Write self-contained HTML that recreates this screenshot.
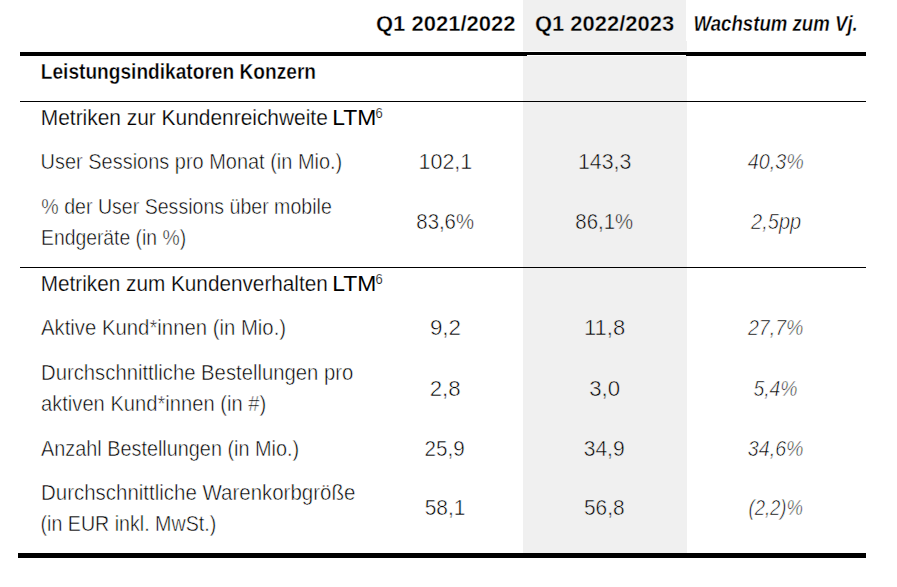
<!DOCTYPE html>
<html lang="de"><head><meta charset="utf-8"><title>Leistungsindikatoren Konzern</title>
<style>
html,body{margin:0;padding:0;background:#fff;}
body{width:897px;height:587px;position:relative;overflow:hidden;font-family:"Liberation Sans",sans-serif;font-size:20px;color:#000;}
.g{position:absolute;left:523px;top:0;width:163px;height:553px;background:#f0f0f0;}
.g2{position:absolute;left:686px;top:41px;width:1px;height:512px;background:#f0f0f0;}
.w{position:absolute;background:#fff;}
.ln{position:absolute;background:#000;}
.t{position:absolute;white-space:nowrap;line-height:20px;height:20px;font-size:21.5px;transform-origin:0 50%;}
.b{font-weight:bold;-webkit-text-stroke:0.35px #fff;}
#h2{-webkit-text-stroke-color:#f0f0f0;}
.bi{font-weight:bold;font-style:italic;-webkit-text-stroke:0.35px #fff;}
.r{font-weight:normal;-webkit-text-stroke:0.25px #fff;}
.l{font-weight:normal;color:#000;-webkit-text-stroke:0.5px #fff;}
.lg{font-weight:normal;color:#000;-webkit-text-stroke:0.5px #f0f0f0;}
.li{font-weight:normal;font-style:italic;color:#000;-webkit-text-stroke:0.6px #fff;}
.m{-webkit-text-stroke:0;}
sup.t{font-size:15.5px;vertical-align:baseline;}
</style></head><body>
<div class="g"></div><div class="g2"></div>
<div class="w" style="left:523px;top:51px;width:164px;height:5px"></div>
<div class="ln" style="left:20px;top:52px;width:846px;height:3px"></div>
<div class="ln" style="left:20px;top:55px;width:507px;height:1px"></div>
<div class="ln" style="left:686px;top:55px;width:180px;height:1px"></div>
<div class="ln" style="left:20px;top:101px;width:846px;height:1px"></div>
<div class="ln" style="left:20px;top:267px;width:846px;height:1px"></div>
<div class="ln" style="left:18px;top:553px;width:848px;height:5px"></div>
<div class="t b" id="h1" style="left:376px;top:14.00px;transform:translateX(0.00px) scaleX(1.0236);">Q1 2021/2022</div>
<div class="t b" id="h2" style="left:535px;top:14.00px;transform:translateX(0.00px) scaleX(1.0208);">Q1 2022/2023</div>
<div class="t bi" id="h3" style="left:693px;top:14.00px;transform:translateX(0.50px) scaleX(0.8664);">Wachstum zum Vj.</div>
<div class="t b" id="r1" style="left:40px;top:62.00px;transform:translateX(0.76px) scaleX(0.8897);">Leistungsindikatoren Konzern</div>
<div class="t r" id="r2" style="left:40px;top:108.00px;transform:translateX(0.81px) scaleX(0.9722);">Metriken zur Kundenreichweite</div>
<div class="t r m" id="r2m" style="left:332px;top:108.00px;transform:translateX(0.18px) scaleX(1.0641);">LTM</div>
<sup class="t r sp" id="r2s" style="left:375px;top:102.50px;font-size:15.5px;transform:translateX(0.40px) scaleX(0.8400);">6</sup>
<div class="t l" id="r3" style="left:40px;top:152.00px;transform:translateX(0.60px) scaleX(0.9282);">User Sessions pro Monat (in Mio.)</div>
<div class="t l" id="r4a" style="left:41px;top:197.00px;transform:translateX(0.34px) scaleX(0.9103);">% der User Sessions über mobile</div>
<div class="t l" id="r4b" style="left:40px;top:228.00px;transform:translateX(0.99px) scaleX(0.8996);">Endgeräte (in %)</div>
<div class="t r" id="r5" style="left:40px;top:274.00px;transform:translateX(0.79px) scaleX(0.9644);">Metriken zum Kundenverhalten</div>
<div class="t r m" id="r5m" style="left:332px;top:274.00px;transform:translateX(0.18px) scaleX(1.0641);">LTM</div>
<sup class="t r sp" id="r5s" style="left:375px;top:268.50px;font-size:15.5px;transform:translateX(0.40px) scaleX(0.8400);">6</sup>
<div class="t l" id="r6" style="left:41px;top:318.00px;transform:translateX(0.00px) scaleX(0.9450);">Aktive Kund*innen (in Mio.)</div>
<div class="t l" id="r7a" style="left:41px;top:363.00px;transform:translateX(0.02px) scaleX(0.9433);">Durchschnittliche Bestellungen pro</div>
<div class="t l" id="r7b" style="left:40px;top:393.50px;transform:translateX(0.95px) scaleX(0.9375);">aktiven Kund*innen (in #)</div>
<div class="t l" id="r8" style="left:41px;top:439.00px;transform:translateX(0.00px) scaleX(0.9230);">Anzahl Bestellungen (in Mio.)</div>
<div class="t l" id="r9a" style="left:40px;top:483.00px;transform:translateX(0.97px) scaleX(0.9519);">Durchschnittliche Warenkorbgröße</div>
<div class="t l" id="r9b" style="left:40px;top:514.00px;transform:translateX(0.52px) scaleX(0.9134);">(in EUR inkl. MwSt.)</div>
<div class="t l" id="v3a" style="left:418px;top:152.00px;transform:translateX(0.54px) scaleX(0.9972);">102,1</div>
<div class="t lg" id="v3b" style="left:578px;top:152.00px;transform:translateX(0.00px) scaleX(0.9930);">143,3</div>
<div class="t li" id="v3c" style="left:747px;top:152.00px;transform:translateX(0.73px) scaleX(0.9187);">40,3%</div>
<div class="t l" id="v4a" style="left:416px;top:212.00px;transform:translateX(0.33px) scaleX(0.9464);">83,6%</div>
<div class="t lg" id="v4b" style="left:575px;top:212.00px;transform:translateX(0.35px) scaleX(0.9464);">86,1%</div>
<div class="t li" id="v4c" style="left:751px;top:212.00px;transform:translateX(0.10px) scaleX(0.9304);">2,5pp</div>
<div class="t l" id="v6a" style="left:429px;top:318.00px;transform:translateX(0.90px) scaleX(1.0406);">9,2</div>
<div class="t lg" id="v6b" style="left:584px;top:318.00px;transform:translateX(0.00px) scaleX(1.0218);">11,8</div>
<div class="t li" id="v6c" style="left:747px;top:318.00px;transform:translateX(0.97px) scaleX(0.9090);">27,7%</div>
<div class="t l" id="v7a" style="left:429px;top:379.00px;transform:translateX(0.63px) scaleX(1.0350);">2,8</div>
<div class="t lg" id="v7b" style="left:589px;top:379.00px;transform:translateX(0.19px) scaleX(1.0325);">3,0</div>
<div class="t li" id="v7c" style="left:753px;top:379.00px;transform:translateX(0.40px) scaleX(0.9010);">5,4%</div>
<div class="t l" id="v8a" style="left:424px;top:439.00px;transform:translateX(0.50px) scaleX(0.9582);">25,9</div>
<div class="t lg" id="v8b" style="left:583px;top:439.00px;transform:translateX(0.72px) scaleX(0.9782);">34,9</div>
<div class="t li" id="v8c" style="left:747px;top:439.00px;transform:translateX(0.86px) scaleX(0.9134);">34,6%</div>
<div class="t l" id="v9a" style="left:424px;top:498.00px;transform:translateX(0.67px) scaleX(0.9704);">58,1</div>
<div class="t lg" id="v9b" style="left:583px;top:498.00px;transform:translateX(0.98px) scaleX(0.9689);">56,8</div>
<div class="t li" id="v9c" style="left:748px;top:498.00px;transform:translateX(0.52px) scaleX(0.8592);">(2,2)%</div>
</body></html>
